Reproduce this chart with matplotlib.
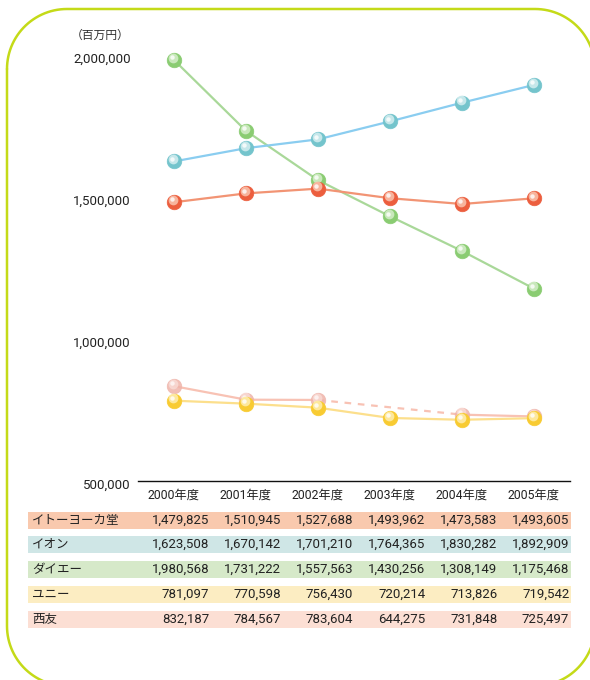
import matplotlib
matplotlib.use('Agg')
import matplotlib.pyplot as plt
import matplotlib.transforms as mtransforms
from matplotlib.patches import Rectangle
import numpy as np

plt.rcParams['font.family'] = ['Roboto', 'Noto Sans CJK JP', 'DejaVu Sans']

# data (百万円)
years = ['2000年度', '2001年度', '2002年度', '2003年度', '2004年度', '2005年度']
companies = ['イトーヨーカ堂', 'イオン', 'ダイエー', 'ユニー', '西友']
ito_yokado = [1479825, 1510945, 1527688, 1493962, 1473583, 1493605]
aeon = [1623508, 1670142, 1701210, 1764365, 1830282, 1892909]
daiei = [1980568, 1731222, 1557563, 1430256, 1308149, 1175468]
uny = [781097, 770598, 756430, 720214, 713826, 719542]
seiyu = [832187, 784567, 783604, 644275, 731848, 725497]
seiyu_on_chart = [True, True, True, False, True, True]  # 2003 not plotted (dashed gap)

# line color, marker base, marker highlight, table row color
styles = {
    'イトーヨーカ堂': ('#F29474', '#EC5E3E', '#FCD2BE', '#F9C9AE'),
    'イオン': ('#8ACDF0', '#74C4CC', '#E2F4F5', '#CFE6E6'),
    'ダイエー': ('#A9D899', '#8ACC72', '#DFF2D6', '#D6E9C9'),
    'ユニー': ('#FCDF8C', '#F8CB32', '#FFF3C2', '#FCEDC2'),
    '西友': ('#F8C2B4', '#EFB4AA', '#FBE4DF', '#FCDFD4'),
}
series = {'イトーヨーカ堂': ito_yokado, 'イオン': aeon, 'ダイエー': daiei,
          'ユニー': uny, '西友': seiyu}

W, H = 590, 680
fig = plt.figure(figsize=(W / 100, H / 100), dpi=100)

# pixel-space overlay for frame and table backgrounds
bg = fig.add_axes([0, 0, 1, 1], zorder=0)
bg.set_xlim(0, W)
bg.set_ylim(H, 0)
bg.axis('off')

# rounded frame (runs off the right and bottom edges)
x0, y0, x1, y1, r = 7, 9, 595, 686, 60
t = np.linspace(0, np.pi / 2, 30)
fx = np.concatenate([x0 + r - r * np.cos(t), x1 - r + r * np.sin(t),
                     x1 - r + r * np.cos(t), x0 + r - r * np.sin(t)])
fy = np.concatenate([y0 + r - r * np.sin(t), y0 + r - r * np.cos(t),
                     y1 - r + r * np.sin(t), y1 - r + r * np.cos(t)])
fx = np.append(fx, fx[0])
fy = np.append(fy, fy[0])
bg.plot(fx, fy, color='#C4DA18', lw=1.8, solid_capstyle='round')

ax = fig.add_axes([138 / W, 1 - 480.5 / H, 432 / W, 426 / H], zorder=1)
ax.patch.set_alpha(0)
x = np.arange(len(years))


def draw_series(vals, name, z, mask=None, alpha=1.0):
    line_c, base_c, hi_c, _ = styles[name]
    v = np.array(vals, dtype=float)
    if mask is not None:
        m = np.array(mask)
        v = np.where(m, v, np.nan)
        # dashed bridge over the missing year
        for i in np.where(~m)[0]:
            ax.plot([i - 1, i + 1], [v[i - 1], v[i + 1]], color=line_c, lw=1.6,
                    ls=(0, (3, 3)), zorder=z, clip_on=False)
    ax.plot(x, v, color=line_c, lw=1.6, zorder=z, clip_on=False)
    ax.plot(x, v, 'o', ms=10.5, mfc=base_c, mec=base_c, mew=0.5, zorder=z + 0.1,
            clip_on=False, alpha=alpha)
    shift = mtransforms.offset_copy(ax.transData, fig=fig, x=-1.0, y=1.6, units='points')
    ax.plot(x, v, 'o', ms=7, mfc=hi_c, mec='none', alpha=0.75 * alpha,
            transform=shift, zorder=z + 0.2, clip_on=False)
    shift2 = mtransforms.offset_copy(ax.transData, fig=fig, x=-1.3, y=2.0, units='points')
    ax.plot(x, v, 'o', ms=3.2, mfc='white', mec='none', alpha=0.8 * alpha,
            transform=shift2, zorder=z + 0.3, clip_on=False)


draw_series(seiyu, '西友', 2, mask=seiyu_on_chart, alpha=0.85)
draw_series(uny, 'ユニー', 3)
draw_series(daiei, 'ダイエー', 4)
draw_series(aeon, 'イオン', 5)
draw_series(ito_yokado, 'イトーヨーカ堂', 6)

yticks = [500000, 1000000, 1500000, 2000000]
ax.set_xlim(-0.5, 5.5)
ax.set_ylim(500000, 2000000)
ax.set_yticks(yticks)
ax.set_yticklabels([f'{t:,}' for t in yticks])
ax.set_xticks(x)
ax.set_xticklabels(years)
for s in ['left', 'right', 'top']:
    ax.spines[s].set_visible(False)
ax.spines['bottom'].set_color('#111111')
ax.spines['bottom'].set_linewidth(1.0)
ax.tick_params(axis='y', length=0, pad=5, labelsize=9.5, labelcolor='#222222')
ax.tick_params(axis='x', length=0, pad=6, labelsize=8.8, labelcolor='#222222')
# tick labels sit slightly below their gridline value
for lbl in ax.get_yticklabels():
    lbl.set_transform(lbl.get_transform() + mtransforms.ScaledTranslation(0, -2.5 / 72, fig.dpi_scale_trans))

bg.text(100, 35, '（百万円）', ha='center', va='center', fontsize=8.5, color='#333333')

# data table below the chart
blend = mtransforms.blended_transform_factory(ax.transData, bg.transData)
row_y = [520.5, 544.5, 569.5, 594.5, 619.5]
for name, yc in zip(companies, row_y):
    bg.add_patch(Rectangle((28, yc - 8.5), 543, 17, facecolor=styles[name][3],
                           edgecolor='none'))
    bg.text(32, yc, name, ha='left', va='center', fontsize=9, color='#222222')
    for xi, val in zip(x, series[name]):
        bg.text(xi + 0.49, yc, f'{val:,}', ha='right', va='center', fontsize=9.5,
                color='#222222', transform=blend)

fig.savefig('out.png', dpi=100)
